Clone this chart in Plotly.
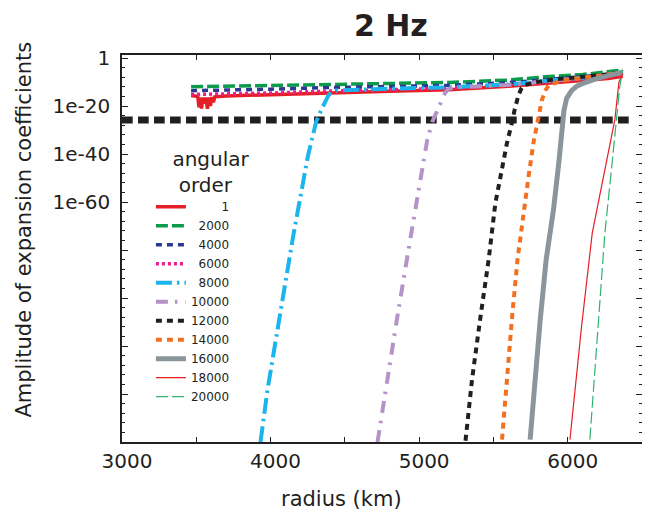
import plotly.graph_objects as go

# ---------------- data (radius in km, amplitude as log10 exponent) ----------------
orders = ["1", "2000", "4000", "6000", "8000", "10000", "12000", "14000", "16000", "18000", "20000"]

r_1 = [3465, 3500, 3510, 3518, 3525, 3535, 3545, 3555, 3565, 3575, 3585, 3595, 3605, 3615, 3625,
       3700, 4000, 4400, 4800, 5200, 5600, 5900, 6100, 6272, 6371]
e_1 = [-15.6, -15.8, -16.0, -20.5, -16.5, -21.0, -16.5, -19.0, -16.5, -21.2, -16.5, -20.0, -16.3, -18.5, -16.2,
       -15.8, -15.4, -14.6, -13.9, -13.2, -11.8, -10.4, -9.5, -8.5, -7.6]

r_2000 = [3465, 3700, 4000, 4400, 4800, 5200, 5600, 5900, 6100, 6272, 6371]
e_2000 = [-12.0, -11.8, -11.5, -10.9, -10.6, -10.2, -9.2, -7.6, -6.9, -5.9, -5.0]

r_4000 = [3465, 3700, 4000, 4400, 4800, 5200, 5600, 5900, 6100, 6272, 6371]
e_4000 = [-13.6, -13.4, -13.0, -12.3, -11.9, -11.4, -10.3, -8.7, -7.9, -6.9, -6.0]

r_6000 = [3465, 3700, 4000, 4400, 4800, 5200, 5600, 5900, 6100, 6272, 6371]
e_6000 = [-15.2, -15.0, -14.6, -13.8, -13.2, -12.6, -11.2, -9.7, -8.8, -7.8, -6.8]

r_8000 = [3932, 3980, 4050, 4150, 4251, 4307, 4350, 4370, 4390, 4410, 4440, 4800, 5200, 5600, 5900, 6100, 6272, 6371]
e_8000 = [-160, -138, -112, -75, -41, -26.5, -20.5, -17.5, -15.5, -14.3, -13.5, -12.8, -12.2, -11.0, -9.2, -8.3, -7.2, -6.2]

r_10000 = [4720, 4780, 4850, 4950, 5033, 5055, 5089, 5122, 5155, 5175, 5195, 5230, 5600, 5900, 6100, 6272, 6371]
e_10000 = [-160, -136, -109, -72, -41, -34, -26.5, -21.7, -16.8, -14.5, -13.0, -12.3, -11.2, -9.5, -8.5, -7.3, -6.3]

r_12000 = [5312, 5356, 5413, 5468, 5513, 5557, 5591, 5629, 5642, 5669, 5690, 5710, 5800, 5900, 6100, 6272, 6371]
e_12000 = [-159.5, -134, -107.8, -84, -60.5, -46.7, -35.5, -25.8, -21.7, -15.4, -12.5, -11.2, -9.9, -9.0, -8.0, -6.8, -5.8]

r_14000 = [5558, 5591, 5624, 5662, 5703, 5736, 5769, 5796, 5826, 5850, 5870, 5950, 6100, 6272, 6371]
e_14000 = [-159, -132.8, -109, -84, -63.3, -49.5, -35.5, -25.8, -17.5, -13.5, -11.5, -9.6, -8.3, -7.0, -6.0]

r_16000 = [5747, 5781, 5815, 5855, 5904, 5942, 5964, 5975, 5993, 6010, 6026, 6060, 6093, 6200, 6300, 6371]
e_16000 = [-159, -132.8, -109, -84, -63.3, -42.5, -25.8, -21.7, -16.8, -14.8, -13.6, -11.8, -10.8, -8.5, -6.8, -5.8]

r_18000 = [6015, 6093, 6165, 6250, 6294, 6317, 6345, 6371]
e_18000 = [-159, -112, -73, -46.7, -33.5, -25.8, -10.0, -6.5]

r_20000 = [6149, 6205, 6250, 6294, 6328, 6350, 6371]
e_20000 = [-159, -112, -73, -46.7, -25.8, -12.0, -5.0]

thr_r = [3000, 6430]
thr_e = [-25.8, -25.8]

x_ticks = [3000, 3500, 4000, 4500, 5000, 5500, 6000, 6500]
x_ticktext = ["3000", "", "4000", "", "5000", "", "6000", ""]
y_major_exp = [0, -20, -40, -60, -80, -100, -120, -140, -160]
y_ticktext = ["1", "1e-20", "1e-40", "1e-60", "", "", "", "", ""]

# ---------------- styles ----------------
styles = {
    "1":     dict(color="#e41f26", width=3.5, dash="solid"),
    "2000":  dict(color="#0c9b4a", width=3.5, dash="12px,4px"),
    "4000":  dict(color="#2b3990", width=3.5, dash="6px,5px"),
    "6000":  dict(color="#ec1c8c", width=3.5, dash="3px,3px"),
    "8000":  dict(color="#1cb4ec", width=4, dash="16px,5px,2.5px,5px"),
    "10000": dict(color="#b593c9", width=4, dash="12px,7px,2.5px,8px"),
    "12000": dict(color="#231f20", width=4, dash="6px,5px"),
    "14000": dict(color="#f37021", width=4, dash="6px,5px"),
    "16000": dict(color="#8b959c", width=5, dash="solid"),
    "18000": dict(color="#e41f26", width=1.2, dash="solid"),
    "20000": dict(color="#2db36f", width=1.2, dash="12px,4px"),
}

series = {
    "1": (r_1, e_1), "2000": (r_2000, e_2000), "4000": (r_4000, e_4000),
    "6000": (r_6000, e_6000), "8000": (r_8000, e_8000), "10000": (r_10000, e_10000),
    "12000": (r_12000, e_12000), "14000": (r_14000, e_14000), "16000": (r_16000, e_16000),
    "18000": (r_18000, e_18000), "20000": (r_20000, e_20000),
}

FONT = "DejaVu Sans"
FIG = "\u2007"
NB = "\u00a0"
INK = "#231f20"

fig = go.Figure()

fig.add_trace(go.Scatter(
    x=thr_r, y=[10 ** e for e in thr_e], mode="lines",
    line=dict(color=INK, width=7, dash="10.7px,5.3px"),
    showlegend=False, hoverinfo="skip"))

maxlen = max(len(o) for o in orders)
for o in orders:
    r, e = series[o]
    label = FIG * (maxlen - len(o)) + o
    fig.add_trace(go.Scatter(
        x=r, y=[10 ** v for v in e], mode="lines", name=label,
        line=styles[o]))

axis_common = dict(
    showline=True, linecolor=INK, linewidth=1.5, mirror="allticks",
    ticks="inside", tickcolor=INK, tickwidth=1.2,
    showgrid=False, zeroline=False,
    tickfont=dict(family=FONT, size=20, color=INK),
)

# page is shown with an 8px body margin: figure sized to fill the remaining window
fig.update_layout(
    width=642, height=508,
    margin=dict(l=114, r=6, t=47, b=74),
    paper_bgcolor="white", plot_bgcolor="white",
    font=dict(family=FONT, color=INK),
    title=dict(text="<b>2 Hz</b>", x=0.517, xref="paper", y=0.966, yref="container",
               xanchor="center", yanchor="middle",
               font=dict(family=FONT, size=30, color=INK)),
    xaxis=dict(range=[3000, 6500], tickmode="array", tickvals=x_ticks, ticktext=x_ticktext,
               ticklen=5, ticklabelshift=5, **axis_common),
    yaxis=dict(type="log", range=[-160, 1.25], tickmode="array",
               tickvals=[10 ** k for k in y_major_exp], ticktext=y_ticktext,
               ticklen=6, ticklabelstandoff=6,
               minor=dict(tickmode="array",
                          tickvals=[10 ** (-k) for k in range(0, 161, 4) if k % 20],
                          ticks="inside", ticklen=3, tickcolor=INK, tickwidth=1),
               **axis_common),
    legend=dict(
        x=0.0556, y=0.78, xanchor="left", yanchor="top",
        bgcolor="rgba(0,0,0,0)", borderwidth=0,
        font=dict(family=FONT, size=12, color=INK),
        title=dict(text=FIG + NB + "angular<br>" + FIG + FIG + "order", side="top center",
                   font=dict(family=FONT, size=20, color=INK)),
        tracegroupgap=0,
    ),
    annotations=[
        dict(text="radius (km)", xref="paper", yref="paper", x=0.4215, y=-0.148,
             xanchor="center", yanchor="middle", showarrow=False,
             font=dict(family=FONT, size=21, color=INK)),
        dict(text="Amplitude of expansion coefficients", xref="paper", yref="paper",
             x=-0.1877, y=0.55, xanchor="center", yanchor="middle", textangle=-90,
             showarrow=False, font=dict(family=FONT, size=21, color=INK)),
    ],
)

fig.write_html("out.html")
